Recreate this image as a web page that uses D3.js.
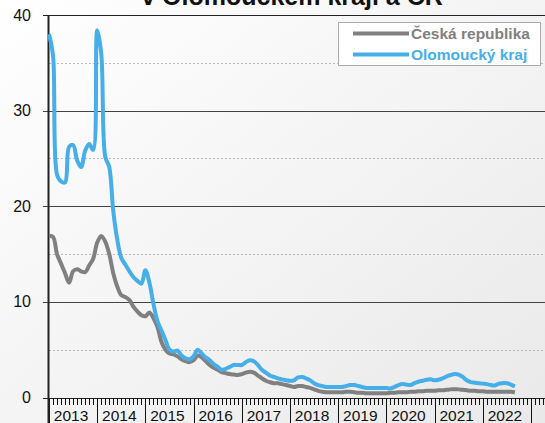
<!DOCTYPE html>
<html><head><meta charset="utf-8">
<script src="https://cdn.jsdelivr.net/npm/d3@7"></script>
<style>html,body{margin:0;padding:0;background:#fff}svg{display:block}text{font-family:Arial,"Liberation Sans",sans-serif}</style>
</head><body>
<svg id="c" width="545" height="423"></svg>
<script>
// Months from Jan 2013 (index 0) to Sep 2022
const startYear = 2013;
const yearLabels = ["2013","2014","2015","2016","2017","2018","2019","2020","2021","2022"];
const yTicks = [0,10,20,30,40];
const yMinor = [5,15,25,35];
const seriesNames = ["Česká republika","Olomoucký kraj"];
const cr = [16.9,16.8,15.0,14.0,13.0,12.0,13.2,13.4,13.2,13.1,13.8,14.5,
  16.2,16.9,16.3,15.0,13.0,11.6,10.7,10.5,10.2,9.5,9.0,8.6,
  8.5,8.9,8.3,7.4,5.8,5.0,4.6,4.5,4.3,4.0,3.8,3.7,
  3.9,4.4,4.2,3.8,3.4,3.1,2.9,2.65,2.55,2.45,2.4,2.35,
  2.45,2.6,2.7,2.6,2.3,2.0,1.75,1.6,1.5,1.5,1.4,1.3,
  1.2,1.1,1.2,1.2,1.1,1.0,0.85,0.7,0.6,0.55,0.55,0.55,
  0.55,0.55,0.6,0.6,0.55,0.5,0.5,0.45,0.45,0.45,0.45,0.45,
  0.45,0.5,0.5,0.55,0.55,0.55,0.6,0.6,0.65,0.65,0.7,0.7,
  0.7,0.75,0.75,0.8,0.85,0.85,0.85,0.8,0.75,0.7,0.7,0.65,
  0.65,0.6,0.6,0.6,0.6,0.6,0.6,0.6,0.55];
const olo = [38.0,35.8,23.3,22.6,22.5,26.2,26.4,24.8,24.1,25.8,26.5,25.9,
  38.4,36.0,25.2,24.1,19.5,16.5,14.6,13.9,13.2,12.6,12.2,11.9,
  13.3,12.0,9.8,8.0,7.0,6.0,5.0,4.8,4.9,4.4,4.1,4.0,
  4.3,5.0,4.6,4.2,3.9,3.5,3.2,2.9,3.0,3.2,3.4,3.4,
  3.4,3.7,3.9,3.8,3.4,2.9,2.6,2.3,2.15,2.0,1.9,1.8,
  1.75,1.8,2.1,2.15,2.0,1.8,1.5,1.3,1.2,1.1,1.1,1.1,
  1.1,1.1,1.2,1.3,1.3,1.2,1.1,1.0,1.0,1.0,1.0,1.0,
  1.0,0.95,1.1,1.3,1.4,1.35,1.3,1.5,1.65,1.75,1.85,1.9,
  1.8,1.85,2.0,2.2,2.35,2.45,2.4,2.15,1.8,1.6,1.55,1.5,
  1.45,1.4,1.3,1.25,1.45,1.5,1.5,1.35,1.15];
const colors = ["#808080","#46aee8"];

const svg = d3.select("#c");
const W = 545, H = 423;
const defs = svg.append("defs");
const g = defs.append("linearGradient").attr("id","bg").attr("x1","0").attr("y1","0").attr("x2","1").attr("y2","1");
g.append("stop").attr("offset","0").attr("stop-color","#ffffff");
g.append("stop").attr("offset","1").attr("stop-color","#e9e9e9");
svg.append("rect").attr("width",W).attr("height",H).attr("fill","url(#bg)");

const x0 = 49, monthW = 48.2/12;
const x = d3.scaleLinear().domain([0,1]).range([x0, x0+monthW]);
const y = d3.scaleLinear().domain([0,40]).range([397.5,15]);

// minor dashed gridlines
svg.append("g").selectAll("line").data(yMinor).join("line")
  .attr("x1",x0).attr("x2",W).attr("y1",d=>Math.round(y(d))+0.5).attr("y2",d=>Math.round(y(d))+0.5)
  .attr("stroke","#bbb").attr("stroke-dasharray","2,2").attr("stroke-width",1);
// major gridlines
svg.append("g").selectAll("line").data(yTicks).join("line")
  .attr("x1",43).attr("x2",W).attr("y1",d=>Math.round(y(d))+0.5).attr("y2",d=>Math.round(y(d))+0.5)
  .attr("stroke",d=>d===0||d===40?"#222":"#444").attr("stroke-width",1);
// y labels
svg.append("g").selectAll("text").data(yTicks).join("text")
  .attr("x",31).attr("y",d=>y(d)).attr("dy","0.35em").attr("text-anchor","end")
  .attr("font-size",16).attr("fill","#111").text(d=>d);

// x axis ticks
const nMonths = Math.floor((W - x0)/monthW);
const monthIdx = d3.range(0, nMonths+1);
svg.append("g").selectAll("line").data(monthIdx).join("line")
  .attr("x1",d=>Math.round(x(d))+0.5).attr("x2",d=>Math.round(x(d))+0.5)
  .attr("y1",398).attr("y2",d=>d%12===0?423:405)
  .attr("stroke","#111").attr("stroke-width",1);
svg.append("g").selectAll("text").data(yearLabels).join("text")
  .attr("x",(d,i)=>x(i*12+6)-2).attr("y",421).attr("text-anchor","middle")
  .attr("font-size",15.5).attr("fill","#111").text(d=>d);
// left axis
svg.append("line").attr("x1",x0-0.5).attr("x2",x0-0.5).attr("y1",15).attr("y2",423)
  .attr("stroke","#222").attr("stroke-width",2);

// lines
const line = d3.line().x((d,i)=>x(i)).y(d=>y(d)).curve(d3.curveCatmullRom.alpha(0.5));
[cr, olo].forEach((s,k)=>{
  svg.append("path").attr("d",line(s)).attr("fill","none")
    .attr("stroke",colors[k]).attr("stroke-width",4).attr("stroke-linejoin","round");
});

// title (partially visible, as in the reference)
svg.append("text").attr("x",292).attr("y",5).attr("text-anchor","middle")
  .attr("font-size",25).attr("font-weight","bold").attr("fill","#111")
  .text("v Olomouckém kraji a ČR");

// legend
svg.append("rect").attr("x",338.5).attr("y",22.5).attr("width",202).attr("height",43)
  .attr("fill","#fff").attr("stroke","#aaa").attr("stroke-width",1);
const ly = [33.5, 54.5];
seriesNames.forEach((n,k)=>{
  svg.append("line").attr("x1",353).attr("x2",409).attr("y1",ly[k]).attr("y2",ly[k])
    .attr("stroke",colors[k]).attr("stroke-width",4);
  svg.append("text").attr("x",411).attr("y",ly[k]+5).attr("font-size",15.5)
    .attr("font-weight","bold").attr("fill",colors[k]).text(n);
});
</script>
</body></html>
